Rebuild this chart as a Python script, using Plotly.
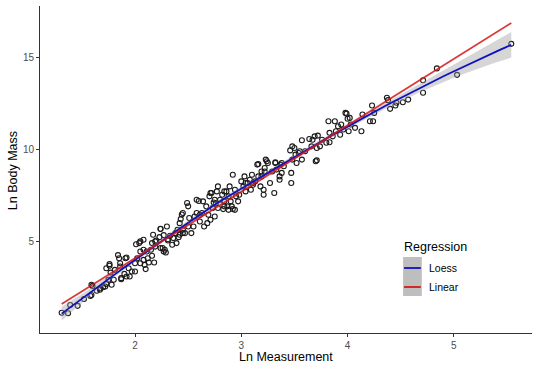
import numpy as np
import plotly.graph_objects as go

# ---------------- data ----------------
ln_measurement = [
    1.31, 1.37, 1.46, 1.39, 1.58, 1.60, 1.67, 1.70, 1.73, 1.73, 1.76, 1.77, 1.80, 1.81, 1.84, 1.85,
    1.86, 1.87, 1.90, 1.92, 1.92, 1.94, 1.97, 2.00, 2.01, 2.02, 2.04, 2.05, 2.08, 2.08, 2.09, 2.10,
    2.12, 2.13, 2.16, 2.18, 2.15, 2.11, 2.19, 2.16, 2.20, 2.23, 2.24, 2.26, 2.27, 2.28, 2.29, 2.24,
    2.30, 2.31, 2.33, 2.35, 2.36, 2.38, 2.39, 2.40, 2.41, 2.42, 2.43, 2.45, 2.45, 2.47, 2.49, 2.50,
    2.50, 2.51, 2.53, 2.55, 2.56, 2.58, 2.58, 2.60, 2.61, 2.63, 2.64, 2.65, 2.67, 2.68, 2.69, 2.70,
    2.71, 2.72, 2.73, 2.74, 2.75, 2.77, 2.78, 2.78, 2.80, 2.82, 2.83, 2.84, 2.86, 2.87, 2.88, 2.89,
    2.90, 2.92, 2.92, 2.94, 2.95, 2.97, 2.98, 3.00, 3.02, 3.03, 3.04, 3.06, 3.08, 3.09, 3.10, 3.11,
    3.13, 3.15, 3.16, 3.18, 3.19, 3.21, 3.22, 3.23, 3.25, 3.31, 3.32, 3.33, 3.36, 3.38, 3.37, 3.40,
    3.47, 3.47, 3.46, 3.48, 3.50, 3.51, 3.52, 3.54, 3.55, 3.57, 3.57, 3.60, 3.64, 3.66, 3.67, 3.69,
    3.70, 3.71, 3.72, 3.74, 3.76, 3.80, 3.82, 3.83, 3.83, 3.86, 3.88, 3.89, 3.91, 3.93, 3.94, 3.96,
    3.98, 4.00, 4.01, 4.02, 4.03, 4.07, 4.13, 4.14, 4.21, 4.23, 4.24, 4.25, 4.37, 4.40, 4.45, 4.46,
    4.52, 4.57, 4.71, 4.71, 4.84, 5.03, 5.54, 4.38,
    3.16, 3.24, 3.32, 3.38, 3.48, 3.21, 3.11, 3.22, 3.29, 3.36, 3.27, 3.19, 3.04, 2.71, 2.84, 2.75,
    2.84, 2.91, 2.94, 2.88, 1.59, 1.59, 1.67, 1.72, 1.75, 1.76, 1.87, 1.91, 1.95, 2.05, 2.08, 2.00,
    1.86, 1.78, 2.17, 2.19, 2.24, 2.31, 2.42, 2.44, 2.45, 2.61, 2.76, 2.05, 2.27, 1.52, 1.64, 3.71,
    3.99,
]
ln_body_mass = [
    1.16, 1.13, 1.53, 1.58, 2.07, 2.61, 2.47, 2.54, 2.72, 3.57, 3.79, 3.33, 2.94, 3.48, 4.28, 4.11,
    3.66, 2.97, 3.26, 4.15, 3.12, 3.57, 3.39, 3.39, 4.87, 4.11, 4.93, 3.84, 5.11, 4.02, 3.75, 3.52,
    4.11, 3.88, 4.24, 3.88, 4.57, 4.47, 4.74, 4.93, 5.07, 5.25, 4.66, 4.66, 5.36, 4.57, 4.42, 5.71,
    5.83, 5.07, 5.33, 4.84, 5.20, 5.47, 4.93, 5.65, 5.25, 5.38, 6.23, 6.56, 5.47, 5.47, 7.10, 6.92,
    5.83, 6.29, 5.47, 5.83, 6.37, 6.56, 7.28, 7.21, 6.10, 6.56, 7.19, 5.83, 6.92, 6.01, 6.46, 7.46,
    6.19, 7.64, 6.83, 7.13, 6.37, 7.73, 8.00, 6.83, 7.28, 7.55, 6.77, 7.19, 7.73, 6.92, 7.46, 8.00,
    7.19, 8.63, 6.77, 7.82, 7.46, 7.19, 7.55, 8.27, 8.00, 8.54, 7.73, 8.18, 8.36, 7.82, 8.63, 8.09,
    8.27, 9.18, 8.54, 8.00, 8.81, 7.55, 9.00, 9.45, 9.27, 7.64, 9.30, 8.91, 8.36, 8.73, 9.18, 9.09,
    8.18, 8.73, 9.95, 9.45, 10.08, 9.72, 9.27, 9.81, 9.90, 9.45, 10.50, 9.90, 10.57, 10.17, 10.53, 10.71,
    9.36, 10.08, 10.75, 10.17, 10.53, 10.36, 11.53, 10.90, 10.39, 10.71, 11.53, 10.99, 11.26, 10.80, 11.35, 11.08,
    11.98, 11.66, 10.99, 11.71, 11.35, 11.17, 10.99, 11.89, 11.53, 12.38, 11.53, 11.98, 12.80, 12.20, 12.38, 12.53,
    12.56, 12.70, 13.07, 13.75, 14.39, 14.04, 15.72, 12.67,
    9.21, 9.36, 9.27, 9.27, 10.17, 7.82, 8.18, 8.81, 8.81, 8.54, 8.18, 8.54, 8.18, 7.64, 7.73, 7.28,
    6.92, 6.92, 6.73, 6.73, 2.12, 2.67, 2.40, 2.58, 2.94, 3.70, 3.03, 4.11, 3.12, 5.02, 4.57, 3.84,
    3.84, 2.67, 5.38, 5.02, 5.69, 5.14, 6.01, 6.48, 5.65, 6.46, 7.09, 4.47, 4.47, 1.90, 2.35, 9.41,
    11.94,
]

x_ticks = [2, 3, 4, 5]
y_ticks = [5, 10, 15]
x_title = "Ln Measurement"
y_title = "Ln Body Mass"
legend_title = "Regression"
legend_labels = ["Loess", "Linear"]

# ---------------- fits ----------------
x = np.array(ln_measurement, dtype=float)
y = np.array(ln_body_mass, dtype=float)
n = len(x)
xs = np.linspace(x.min(), x.max(), 80)

# linear regression
coef = np.polyfit(x, y, 1)
lin_y = np.polyval(coef, xs)


def loess_rows(x, x0s, span=0.75):
    q = int(np.floor(len(x) * span))
    rows = []
    for x0 in x0s:
        d = np.abs(x - x0)
        h = np.sort(d)[q - 1]
        u = np.clip(d / h, 0, 1)
        w = (1 - u ** 3) ** 3
        X = np.column_stack([np.ones_like(x), x - x0, (x - x0) ** 2])
        A = X.T @ (X * w[:, None])
        l = np.linalg.solve(A, (X * w[:, None]).T)[0]
        rows.append(l)
    return np.array(rows)


L_data = loess_rows(x, x)
resid = y - L_data @ y
M = np.eye(n) - L_data
delta1 = np.trace(M.T @ M)
sigma = np.sqrt(np.sum(resid ** 2) / delta1)
L_grid = loess_rows(x, xs)
lo_y = L_grid @ y
lo_se = sigma * np.sqrt(np.sum(L_grid ** 2, axis=1))
tq = 1.97
lo_low = lo_y - tq * lo_se
lo_high = lo_y + tq * lo_se

# ---------------- figure ----------------
fig = go.Figure()
fig.add_trace(go.Scatter(
    x=x, y=y, mode="markers",
    marker=dict(symbol="circle-open", size=5, color="#1a1a1a", line=dict(width=1.1)),
    showlegend=False, hoverinfo="skip"))
fig.add_trace(go.Scatter(
    x=np.concatenate([xs, xs[::-1]]), y=np.concatenate([lo_low, lo_high[::-1]]),
    fill="toself", fillcolor="rgba(153,153,153,0.4)", line=dict(width=0),
    mode="lines", showlegend=False, hoverinfo="skip"))
fig.add_trace(go.Scatter(
    x=xs, y=lo_y, mode="lines", line=dict(color="#1010c0", width=1.8),
    showlegend=False))
fig.add_trace(go.Scatter(
    x=xs, y=lin_y, mode="lines", line=dict(color="#d41818", width=1.8),
    opacity=0.85, showlegend=False))

font_family = "Liberation Sans, Arial, sans-serif"
axis_common = dict(
    showline=True, linecolor="#333333", linewidth=1, ticks="outside", ticklen=3,
    tickcolor="#333333", tickwidth=1, showgrid=False, zeroline=False,
    tickfont=dict(size=10, color="#4d4d4d", family=font_family))

fig.update_layout(
    width=540, height=371,
    margin=dict(l=40, r=8, t=6, b=38),
    paper_bgcolor="white", plot_bgcolor="white",
    font=dict(family=font_family, color="black"),
    xaxis=dict(range=[1.106, 5.735], tickvals=x_ticks, **axis_common),
    yaxis=dict(range=[0.06, 17.77], tickvals=y_ticks, **axis_common),
    showlegend=False,
)

# axis titles
fig.add_annotation(text=x_title, xref="paper", yref="paper", x=0.5, y=-0.0734,
                   xanchor="center", yanchor="middle", showarrow=False,
                   font=dict(size=12.5, color="black"))
fig.add_annotation(text=y_title, xref="paper", yref="paper", x=-0.0549, y=0.498,
                   xanchor="center", yanchor="middle", textangle=-90, showarrow=False,
                   font=dict(size=12.5, color="black"))

# manual legend
fig.add_shape(type="rect", xref="paper", yref="paper", x0=0.738, x1=0.776,
              y0=0.1131, y1=0.2324, fillcolor="#bebebe", line=dict(width=0), layer="above")
fig.add_shape(type="line", xref="paper", yref="paper", x0=0.740, x1=0.774,
              y0=0.1988, y1=0.1988, line=dict(color="#1010c0", width=1.8))
fig.add_shape(type="line", xref="paper", yref="paper", x0=0.740, x1=0.774,
              y0=0.1407, y1=0.1407, line=dict(color="#d41818", width=1.8))
fig.add_annotation(text=legend_title, xref="paper", yref="paper", x=0.736, y=0.263,
                   xanchor="left", yanchor="middle", showarrow=False,
                   font=dict(size=12.5, color="black"))
for lab, yy in zip(legend_labels, [0.1988, 0.1407]):
    fig.add_annotation(text=lab, xref="paper", yref="paper", x=0.787, y=yy,
                       xanchor="left", yanchor="middle", showarrow=False,
                       font=dict(size=10.5, color="black"))

fig.write_html("out.html",
               config={"displayModeBar": False},
               post_script="document.body.style.margin='0';document.body.style.overflow='hidden';")
